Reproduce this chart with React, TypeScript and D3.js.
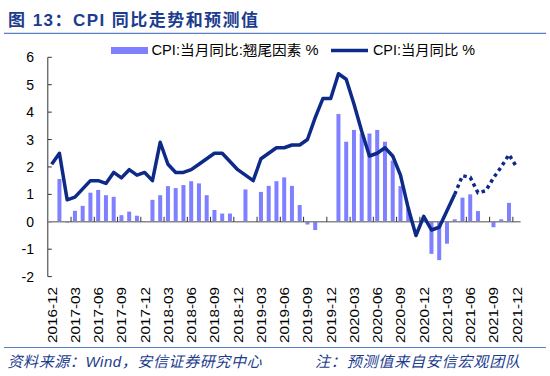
import React from "react";
import * as d3 from "d3";

const months = [
  "2016-12",
  "2017-01","2017-02","2017-03","2017-04","2017-05","2017-06","2017-07","2017-08","2017-09","2017-10","2017-11","2017-12",
  "2018-01","2018-02","2018-03","2018-04","2018-05","2018-06","2018-07","2018-08","2018-09","2018-10","2018-11","2018-12",
  "2019-01","2019-02","2019-03","2019-04","2019-05","2019-06","2019-07","2019-08","2019-09","2019-10","2019-11","2019-12",
  "2020-01","2020-02","2020-03","2020-04","2020-05","2020-06","2020-07","2020-08","2020-09","2020-10","2020-11","2020-12",
  "2021-01","2021-02","2021-03","2021-04","2021-05","2021-06","2021-07","2021-08","2021-09","2021-10","2021-11","2021-12",
];

// CPI:当月同比 % (actual through 2021-04, forecast after)
const cpiYoY = [
  2.1,
  2.5, 0.8, 0.9, 1.2, 1.5, 1.5, 1.4, 1.8, 1.6, 1.9, 1.7, 1.8,
  1.5, 2.9, 2.1, 1.8, 1.8, 1.9, 2.1, 2.3, 2.5, 2.5, 2.2, 1.9,
  1.7, 1.5, 2.3, 2.5, 2.7, 2.7, 2.8, 2.8, 3.0, 3.8, 4.5, 4.5,
  5.4, 5.2, 4.3, 3.3, 2.4, 2.5, 2.7, 2.4, 1.7, 0.5, -0.5, 0.2,
  -0.3, -0.2, 0.4, 1.0, 1.68, 1.62, 1.06, 1.13, 1.6, 2.0, 2.45, 1.99,
];

// CPI:当月同比:翘尾因素 %
const tailFactor: (number | null)[] = [
  null,
  1.56, -0.03, 0.4, 0.58, 1.06, 1.16, 0.97, 0.91, 0.24, 0.37, 0.22, null,
  0.8, 0.97, 1.3, 1.23, 1.34, 1.48, 1.4, 0.97, 0.43, 0.3, 0.3, null,
  1.18, null, 1.09, 1.31, 1.48, 1.62, 1.31, 0.61, -0.1, -0.3, null, null,
  3.93, 2.92, 3.35, 3.22, 3.22, 3.35, 2.92, 2.23, 1.3, 0.49, null, null,
  -1.17, -1.4, -0.8, 0.09, 0.88, 1.0, 0.39, null, -0.2, 0.09, 0.69, null,
];

const lastActual = "2021-04";
const yTicks = [-2, -1, 0, 1, 2, 3, 4, 5, 6];
const tickLabels = months.filter((_, i) => i % 3 === 0);

const titleText = "图 13：CPI 同比走势和预测值";
const sourceText = "资料来源：Wind，安信证券研究中心";
const noteText = "注：预测值来自安信宏观团队";
const barName = "CPI:当月同比:翘尾因素 %";
const lineName = "CPI:当月同比 %";

const BAR = "#7f80ff";
const LINE = "#0e2a88";
const BLUE = "#1c3c8e";
const RULE = "#5a7fc8";
const LATIN = "'Liberation Sans', Arial, 'Noto Sans CJK SC', sans-serif";

export default function App() {
  const W = 550, H = 376;
  const x = d3.scaleBand<string>().domain(months).range([47.8, 520.6]).padding(0);
  const bw = x.bandwidth();
  const cx = (m: string) => (x(m) as number) + bw / 2;
  const y = d3.scaleLinear().domain([-2, 6]).range([276.6, 57.3]);

  const split = months.indexOf(lastActual);
  const pts = months.map((m, i) => [cx(m), y(cpiYoY[i])] as [number, number]);
  const line = d3.line<[number, number]>();
  const solidPath = line(pts.slice(0, split + 1)) || "";
  const dotPath = line(pts.slice(split)) || "";

  const barW = 4;
  const y0 = y(0);

  return (
    <svg width={W} height={H} style={{ position: "absolute", left: 0, top: 0, background: "#fff" }}>
      {/* title */}
      <text x={8} y={25.5} fontSize={17} fontWeight="bold" fill={BLUE}
        fontFamily={LATIN} textLength={250} lengthAdjust="spacing">{titleText}</text>
      <line x1={4} x2={546} y1={33.3} y2={33.3} stroke={RULE} strokeWidth={1.2} />

      {/* legend */}
      <rect x={111} y={47} width={37} height={7} fill={BAR} />
      <text x={151.5} y={55} fontSize={14} fill="#000" fontFamily={LATIN}
        textLength={167} lengthAdjust="spacingAndGlyphs">{barName}</text>
      <line x1={331} x2={368} y1={50.5} y2={50.5} stroke={LINE} strokeWidth={3.5} />
      <text x={373} y={55} fontSize={14} fill="#000" fontFamily={LATIN}
        textLength={102} lengthAdjust="spacingAndGlyphs">{lineName}</text>

      {/* y axis */}
      <line x1={47.8} x2={47.8} y1={y(6)} y2={y(-2)} stroke="#333" strokeWidth={1} />
      {yTicks.map((t) => (
        <g key={t}>
          <line x1={47.8} x2={51.8} y1={y(t)} y2={y(t)} stroke="#333" strokeWidth={1} />
          <text x={34} y={y(t)} dy="0.36em" textAnchor="end" fontSize={14} fontFamily={LATIN} fill="#000">{t}</text>
        </g>
      ))}

      {/* bars */}
      {months.map((m, i) => {
        const v = tailFactor[i];
        if (v === null) return null;
        const yy = y(v);
        return (
          <rect key={m} x={cx(m) - barW / 2} y={Math.min(yy, y0)} width={barW}
            height={Math.max(0.8, Math.abs(yy - y0))} fill={BAR} />
        );
      })}

      {/* zero axis */}
      <line x1={47.8} x2={520.6} y1={y0} y2={y0} stroke="#888" strokeWidth={1.5} />
      {months.map((m, i) => i % 3 === 0 && i > 0 ? (
        <line key={m} x1={x(m) as number} x2={x(m) as number} y1={y0} y2={y0 - 5} stroke="#333" strokeWidth={1} />
      ) : null)}

      {/* CPI line */}
      <path d={solidPath} fill="none" stroke={LINE} strokeWidth={3.5} strokeLinejoin="round" />
      <path d={dotPath} fill="none" stroke={LINE} strokeWidth={3.5} strokeDasharray="3.5 3.5" />

      {/* x labels */}
      {tickLabels.map((m) => (
        <text key={m} transform={`translate(${cx(m)},287) rotate(-90)`} textAnchor="end" dy="0.36em"
          fontSize={13.5} fontFamily={LATIN} fill="#000" textLength={56} lengthAdjust="spacingAndGlyphs">{m}</text>
      ))}

      {/* footer */}
      <line x1={4} x2={546} y1={347.5} y2={347.5} stroke={RULE} strokeWidth={1.2} />
      <text x={7.5} y={366.5} fontSize={15} fontStyle="italic" fill={BLUE} fontFamily={LATIN}
        textLength={254} lengthAdjust="spacing">{sourceText}</text>
      <text x={315} y={366.5} fontSize={15} fontStyle="italic" fill={BLUE} fontFamily={LATIN}
        textLength={205} lengthAdjust="spacing">{noteText}</text>
    </svg>
  );
}
